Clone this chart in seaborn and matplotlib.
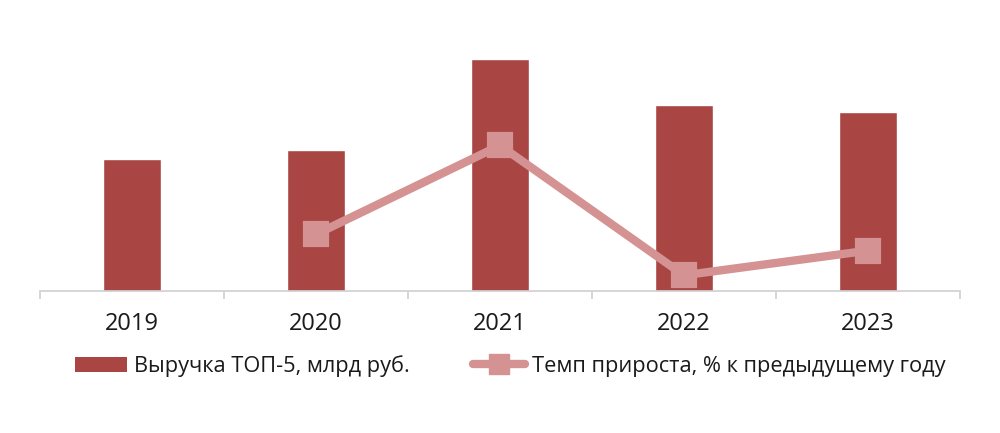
import matplotlib
matplotlib.use("Agg")
import matplotlib.pyplot as plt
from matplotlib.lines import Line2D
from matplotlib.patches import Patch
import seaborn as sns
import pandas as pd

years = ["2019", "2020", "2021", "2022", "2023"]
revenue = [13.2, 14.1, 23.2, 18.6, 17.9]
growth_years = ["2020", "2021", "2022", "2023"]
growth = [6.8, 64.5, -19.8, -3.8]

bar_label = "Выручка ТОП-5, млрд руб."
line_label = "Темп прироста, % к предыдущему году"

bar_color = "#A94543"
line_color = "#D49292"

sns.set_theme(style="white")
plt.rcParams["font.family"] = ["Open Sans", "DejaVu Sans"]

fig = plt.figure(figsize=(10, 4.33), dpi=100)
ax = fig.add_axes([0.04, 0.328, 0.92, 0.626])

df_bar = pd.DataFrame({"year": years, "value": revenue})
sns.barplot(data=df_bar, x="year", y="value", order=years, color=bar_color,
            width=0.31, saturation=1, ax=ax)

ax2 = ax.twinx()
df_line = pd.DataFrame({"year": growth_years, "value": growth})
sns.pointplot(data=df_line, x="year", y="value", order=years, color=line_color,
              markers="s", linestyles="-", errorbar=None, ax=ax2,
              linewidth=6, markersize=14.5)

ax.set_ylim(0, 27.1)
ax2.set_ylim(-30, 146)
ax.set_xlim(-0.5, 4.5)
ax2.set_xlim(-0.5, 4.5)

for a in (ax, ax2):
    a.set_xlabel("")
    a.set_ylabel("")
    a.set_yticks([])
    for s in ("top", "right", "left"):
        a.spines[s].set_visible(False)
ax2.spines["bottom"].set_visible(False)
ax.spines["bottom"].set_color("#D0D0D0")
ax.spines["bottom"].set_linewidth(1.2)

ax.set_xticks(range(len(years)))
ax.set_xticklabels(years, fontsize=17, color="#1A1A1A")
ax.set_xticks([i - 0.5 for i in range(len(years) + 1)], minor=True)
ax.tick_params(axis="x", which="major", length=0, pad=15)
ax.tick_params(axis="x", which="minor", length=6, width=1.2, color="#D0D0D0",
               direction="out", bottom=True)
ax2.tick_params(axis="x", which="both", length=0, labelbottom=False)

handles = [
    Patch(facecolor=bar_color, edgecolor="none", label=bar_label),
    Line2D([0], [0], color=line_color, lw=6, marker="s", markersize=14.5,
           label=line_label),
]
fig.legend(handles=handles, loc="center", bbox_to_anchor=(0.51, 0.155),
           ncol=2, frameon=False, fontsize=15.7, handlelength=2.4,
           handletextpad=0.3, columnspacing=2.9, labelcolor="#1A1A1A")

fig.savefig("out.png", dpi=100)
